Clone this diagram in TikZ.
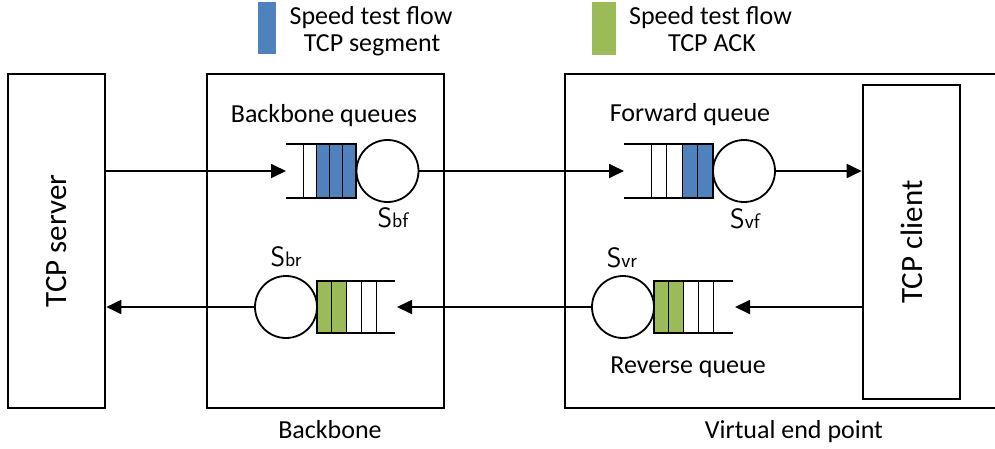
\documentclass[tikz,border=0pt]{standalone}
\usepackage{fontspec}
\setmainfont{Carlito}
\usetikzlibrary{arrows.meta}
\definecolor{qblue}{HTML}{4F81BD}
\definecolor{qgreen}{HTML}{9BBB59}
\tikzset{
  box/.style={draw, line width=2.6pt, rectangle, inner sep=0pt},
  srv/.style={circle, draw, line width=1.8pt, inner sep=0pt, minimum size=62pt, fill=white},
  qline/.style={line width=1.8pt},
  cell/.style={line width=1pt},
  arr/.style={line width=1.8pt, -{Triangle[length=15pt,width=14pt]}},
  lbl/.style={font=\fontsize{26}{30}\selectfont, anchor=base, inner sep=0pt},
  big/.style={font=\fontsize{31}{36}\selectfont, rotate=90, inner sep=0pt},
  sub/.style={anchor=base, inner sep=0pt}
}
\newcommand{\srvlab}[1]{{\sffamily\fontsize{28}{28}\selectfont S\fontsize{21}{21}\selectfont #1}}
\begin{document}
\begin{tikzpicture}[x=1pt,y=-1pt]
\useasboundingbox (0,0) rectangle (995,448);
% legend
\fill[qblue] (258,2) rectangle (276,54);
\node[lbl] (lg1a) at (371,24) {Speed test flow};
\node[lbl] (lg1b) at (372,51) {TCP segment};
\fill[qgreen] (592,2) rectangle (616,55);
\node[lbl] (lg2a) at (710.5,24) {Speed test flow};
\node[lbl] (lg2b) at (712,51) {TCP ACK};
% boxes
\node[box, minimum width=97pt, minimum height=334pt] (server) at (56.5,241) {};
\node[big] at (server.center) {TCP server};
\node[box, minimum width=237pt, minimum height=334pt] (bb) at (325.5,241) {};
\node[box, minimum width=440pt, minimum height=334pt] (ve) at (785,241) {};
\node[box, minimum width=97pt, minimum height=314pt, fill=white] (client) at (911.5,242) {};
\node[big] at (client.center) {TCP client};
% labels
\node[lbl] (bbq) at (324,122) {Backbone queues};
\node[lbl] (fwq) at (690,121) {Forward queue};
\node[lbl] (rvq) at (688,373) {Reverse queue};
\node[lbl] (bbl) at (330,438) {Backbone};
\node[lbl] (vel) at (794,438) {Virtual end point};
% backbone forward queue
\fill[qblue] (316.25,144) rectangle (356,198);
\draw[cell] (303,144) -- (303,198) (316.25,144) -- (316.25,198) (329.5,144) -- (329.5,198) (342.75,144) -- (342.75,198);
\draw[qline] (286,144) -- (356,144) -- (356,198) -- (286,198);
\node[srv] (sbf) at (387.5,171) {};
\coordinate (qbfin) at (286,171);
\node[sub] at (393,227) {\srvlab{bf}};
% virtual forward queue
\fill[qblue] (682,144) rectangle (713,198);
\draw[cell] (651,144) -- (651,198) (666.5,144) -- (666.5,198) (682,144) -- (682,198) (697.5,144) -- (697.5,198);
\draw[qline] (624,144) -- (713,144) -- (713,198) -- (624,198);
\node[srv] (svf) at (744,171) {};
\coordinate (qvfin) at (624,171);
\node[sub] at (745,228) {\srvlab{vf}};
% backbone reverse queue
\fill[qgreen] (317,281) rectangle (346.5,333);
\draw[cell] (331.75,281) -- (331.75,333) (346.5,281) -- (346.5,333) (361.25,281) -- (361.25,333) (376,281) -- (376,333);
\draw[qline] (395,281) -- (317,281) -- (317,333) -- (395,333);
\node[srv] (sbr) at (286,307) {};
\coordinate (qbrin) at (397,307);
\node[sub] at (286,266) {\srvlab{br}};
% virtual reverse queue
\fill[qgreen] (654,281) rectangle (683.5,333);
\draw[cell] (668.75,281) -- (668.75,333) (683.5,281) -- (683.5,333) (698.25,281) -- (698.25,333) (713,281) -- (713,333);
\draw[qline] (733,281) -- (654,281) -- (654,333) -- (733,333);
\node[srv] (svr) at (623,307) {};
\coordinate (qvrin) at (735,307);
\node[sub] at (622,267) {\srvlab{vr}};
% connectors
\draw[arr] (server.east |- qbfin) -- (qbfin);
\draw[arr] (sbf.east) -- (qvfin);
\draw[arr] (svf.east) -- (svf -| client.west);
\draw[arr] (client.west |- qvrin) -- (qvrin);
\draw[arr] (svr.west) -- (qbrin);
\draw[arr] (sbr.west) -- (sbr -| server.east);
\end{tikzpicture}
\end{document}
